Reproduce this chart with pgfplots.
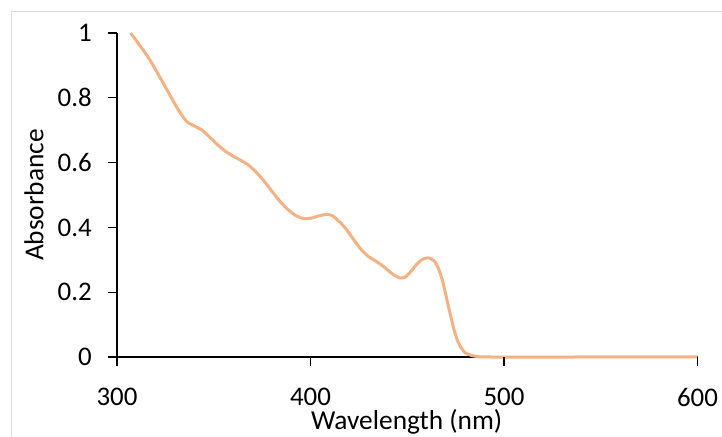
\documentclass[border=0pt]{standalone}
\usepackage{pgfplots}
\pgfplotsset{compat=1.18}
\usepackage{fontspec}
\setmainfont{Carlito}
\definecolor{specline}{HTML}{F4B183}
\definecolor{framegray}{HTML}{D9D9D9}
\begin{document}
\begin{tikzpicture}[x=1bp,y=1bp]
\useasboundingbox (0,0) rectangle (722,437);
\draw[framegray, line width=1.3bp] (11.5,-5) -- (11.5,425.5) -- (730,425.5);
\begin{axis}[
  at={(117bp,80bp)}, anchor=south west,
  scale only axis, width=580.5bp, height=324bp,
  xmin=300, xmax=600, ymin=0, ymax=1,
  xtick={300,400,500,600},
  ytick={0,0.2,0.4,0.6,0.8,1},
  axis x line*=bottom, axis y line*=left,
  axis line style={line width=1.3bp, black, -},
  major tick length=0pt,
  /pgf/number format/assume math mode=true,
  yticklabel={\pgfmathprintnumber[fixed,precision=1]{\tick}},
  tick label style={font=\fontsize{27}{32}\selectfont, text=black, inner sep=0pt},
  xticklabel style={anchor=north, yshift=-31bp},
  yticklabel style={anchor=east, xshift=-25bp},
  xlabel={Wavelength (nm)},
  ylabel={Absorbance},
  every axis x label/.style={at={(axis description cs:0.499,-0.225)}, anchor=base,
    font=\fontsize{27.5}{32}\selectfont, text=black},
  every axis y label/.style={at={(axis description cs:-0.143,0.5)}, rotate=90, anchor=center,
    font=\fontsize{27.5}{32}\selectfont, text=black},
  clip=false,
]
\addplot[specline, line width=3bp, smooth, tension=0.4] coordinates {
(307,1.000) (312,0.960) (317,0.917) (322,0.865) (327,0.812) (332,0.760)
(336,0.727) (340,0.713) (344,0.700) (348,0.678) (352,0.655) (356,0.635)
(360,0.620) (364,0.607) (368,0.592) (372,0.570) (376,0.543) (380,0.512)
(384,0.482) (388,0.457) (392,0.438) (396,0.428) (400,0.428) (404,0.435)
(408,0.440) (411,0.437) (414,0.423) (418,0.398) (422,0.365) (426,0.333)
(430,0.310) (434,0.295) (438,0.278) (442,0.258) (446,0.244) (449,0.247)
(452,0.265) (455,0.287) (458,0.302) (461,0.306) (464,0.296) (466,0.275)
(468,0.240) (470,0.190) (472,0.138) (474,0.088) (476,0.050) (478,0.027)
(480,0.013) (483,0.005) (487,0.001) (492,0) (550,0) (600,0)
};
\end{axis}
% outward tick marks on both axes (axis box: 117..697.5 by 80..404)
\foreach \tx in {117,310.5,504,697.5}
  \draw[black, line width=1.3bp] (\tx,80) -- (\tx,71);
\foreach \ty in {80,144.8,209.6,274.4,339.2,404}
  \draw[black, line width=1.3bp] (117,\ty) -- (108,\ty);
\end{tikzpicture}
\end{document}
